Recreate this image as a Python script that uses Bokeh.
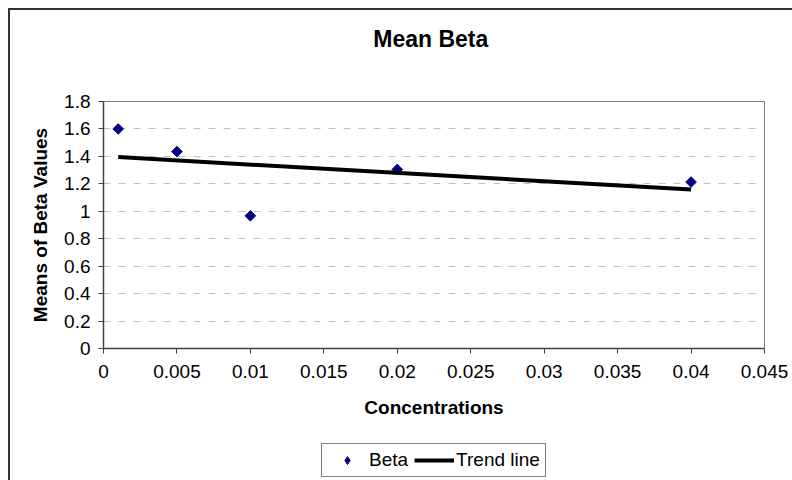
from bokeh.plotting import figure
from bokeh.models import Legend, LegendItem, FixedTicker, Range1d, LinearAxis, Column
from bokeh.embed import file_html
from bokeh.resources import INLINE
import numpy as np

# ---- data ----
concentrations = [0.001, 0.005, 0.01, 0.02, 0.04]
beta_means = [1.60, 1.435, 0.967, 1.305, 1.213]
trend_x = [0.001, 0.04]
trend_y = [1.395, 1.158]

x_ticks = [0, 0.005, 0.01, 0.015, 0.02, 0.025, 0.03, 0.035, 0.04, 0.045]
x_tick_labels = ["0", "0.005", "0.01", "0.015", "0.02", "0.025", "0.03", "0.035", "0.04", "0.045"]
y_ticks = [0, 0.2, 0.4, 0.6, 0.8, 1.0, 1.2, 1.4, 1.6, 1.8]
y_tick_labels = ["0", "0.2", "0.4", "0.6", "0.8", "1", "1.2", "1.4", "1.6", "1.8"]
title_text = "Mean  Beta"

FONT = "Liberation Sans"
MARKER = dict(marker="square", size=7.5, angle=np.pi / 4, fill_color="#000080", line_color="#000080")
TREND = dict(line_color="black", line_width=4)

# ---------------- main chart ----------------
p = figure(width=782, height=420, output_backend="svg", toolbar_location=None,
           x_range=Range1d(0, 0.045), y_range=Range1d(0, 1.8),
           min_border_left=93, min_border_right=28, min_border_top=91, min_border_bottom=82)
p.outline_line_color = "#808080"
p.outline_line_width = 1

xa = p.below[0]
ya = p.left[0]

# title drawn as the label of an empty top axis
top_axis = LinearAxis(ticker=FixedTicker(ticks=[]), axis_label=title_text,
                      axis_line_color=None, major_tick_line_color=None,
                      minor_tick_line_color=None, major_tick_out=0, major_tick_in=0,
                      major_label_standoff=0, axis_label_standoff=50)
top_axis.axis_label_text_font = FONT
top_axis.axis_label_text_font_size = "23px"
top_axis.axis_label_text_font_style = "bold"
top_axis.axis_label_text_color = "black"
p.add_layout(top_axis, "above")

xa.ticker = FixedTicker(ticks=x_ticks)
xa.major_label_overrides = {t: l for t, l in zip(x_ticks, x_tick_labels)}
ya.ticker = FixedTicker(ticks=y_ticks)
ya.major_label_overrides = {t: l for t, l in zip(y_ticks, y_tick_labels)}
for ax in (xa, ya):
    ax.major_label_text_font = FONT
    ax.major_label_text_font_size = "19px"
    ax.major_label_text_color = "black"
    ax.axis_label_text_font = FONT
    ax.axis_label_text_font_size = "19px"
    ax.axis_label_text_font_style = "bold"
    ax.axis_label_text_color = "black"
    ax.axis_line_color = "#404040"
    ax.axis_line_width = 1.5
    ax.major_tick_line_color = "#404040"
    ax.major_tick_in = 0
    ax.major_tick_out = 5
    ax.minor_tick_line_color = None
xa.major_label_standoff = 11
ya.major_label_standoff = 8
xa.axis_label = "Concentrations"
ya.axis_label = "Means of Beta Values"
xa.axis_label_standoff = 16
ya.axis_label_standoff = 10
ya.major_label_orientation = "horizontal"

p.xgrid.grid_line_color = None
p.ygrid.grid_line_color = "#c0c0c0"
p.ygrid.grid_line_dash = "7 8"
p.ygrid.grid_line_width = 1

p.scatter(concentrations, beta_means, **MARKER)
p.line(trend_x, trend_y, **TREND)

# ---------------- legend strip ----------------
lg = figure(width=782, height=50, output_backend="svg", toolbar_location=None,
            x_range=Range1d(0, 0.045), y_range=Range1d(10, 11),
            x_axis_location=None, y_axis_location=None,
            min_border_left=0, min_border_right=0, min_border_top=0, min_border_bottom=0)
lg.outline_line_color = None
lg.grid.visible = False
# legend proxies (same series, outside this strip's visible range)
pts = lg.scatter(concentrations, beta_means, marker="diamond", size=11,
                 fill_color="#000080", line_color="#000080")
ln = lg.line(trend_x, trend_y, **TREND)

legend = Legend(items=[LegendItem(label="Beta", renderers=[pts]),
                       LegendItem(label="Trend line", renderers=[ln])],
                orientation="horizontal", location=(218, 3))
legend.label_text_font = FONT
legend.label_text_font_size = "19px"
legend.label_text_color = "black"
legend.border_line_color = "black"
legend.border_line_width = 1
legend.background_fill_alpha = 1
legend.glyph_width = 40
legend.glyph_height = 20
legend.label_standoff = 2
legend.spacing = 6
legend.padding = 5
legend.margin = 0
lg.add_layout(legend, "center")

layout = Column(children=[p, lg], spacing=0)
layout.styles = {"border-top": "2px solid #333333", "border-left": "2px solid #333333",
                 "margin-left": "8px", "margin-top": "8px"}

open("out.html", "w").write(file_html(layout, INLINE))
